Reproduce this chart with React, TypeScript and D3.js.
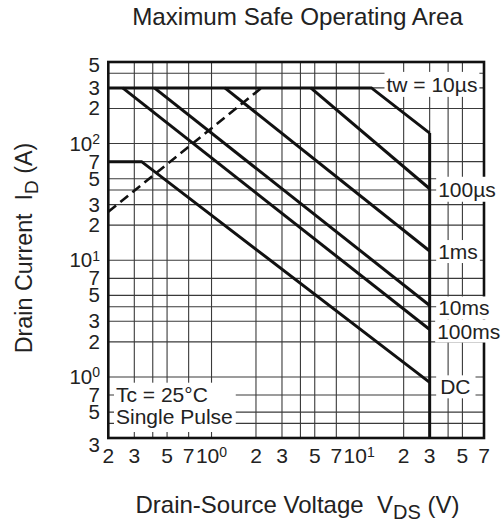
import React, { useEffect, useRef } from 'react';
import * as d3 from 'd3';

// ---- Axis ticks / labels ----
const xTickValues = [0.2, 0.3, 0.5, 0.7, 1, 2, 3, 5, 7, 10, 20, 30, 50, 70];
const xTickMantissa = ['2', '3', '5', '7', '10', '2', '3', '5', '7', '10', '2', '3', '5', '7'];
const xTickExp = ['', '', '', '', '0', '', '', '', '', '1', '', '', '', ''];
const yTickValues = [500, 300, 200, 100, 70, 50, 30, 20, 10, 7, 5, 3, 2, 1, 0.7, 0.5, 0.3];
const yTickMantissa = ['5', '3', '2', '10', '7', '5', '3', '2', '10', '7', '5', '3', '2', '10', '7', '5', '3'];
const yTickExp = ['', '', '', '2', '', '', '', '', '1', '', '', '', '', '0', '', '', ''];
const xGridValues = [0.3, 0.4, 0.5, 0.7, 1, 2, 3, 4, 5, 7, 10, 20, 30, 40, 50];
const yGridValues = [0.4, 0.5, 0.7, 1, 2, 3, 4, 5, 7, 10, 20, 30, 40, 50, 70, 100, 200, 300, 400];
const xDomain = [0.2, 70];
const yDomain = [0.3, 500];

// ---- SOA boundary series (V_DS in V, I_D in A) ----
const curve10usV = [0.2, 12.1, 30];
const curve10usI = [300, 300, 123];
const curve100usV = [4.7, 30];
const curve100usI = [300, 41];
const curve1msV = [1.23, 30];
const curve1msI = [300, 12];
const curve10msV = [0.41, 30];
const curve10msI = [300, 4.1];
const curve100msV = [0.25, 30];
const curve100msI = [300, 2.55];
const curveDCV = [0.2, 0.336, 30];
const curveDCI = [70, 70, 0.9];
const vdssLineV = [30, 30];
const vdssLineI = [123, 0.3];
const rdsOnV = [0.2, 2.18];
const rdsOnI = [26, 300];

const FONT = '"Liberation Sans", Arial, Helvetica, sans-serif';
const INK = '#222';

export default function App() {
  const ref = useRef<SVGSVGElement>(null);

  useEffect(() => {
    const svg = d3.select(ref.current);
    svg.selectAll('*').remove();
    const left = 108.3, right = 484, top = 62, bottom = 438;
    const x = d3.scaleLog().domain(xDomain).range([left, right]);
    const y = d3.scaleLog().domain(yDomain).range([bottom, top]);

    svg.append('rect').attr('width', 504).attr('height', 525).attr('fill', '#fff');

    // Title
    svg.append('text').attr('x', 297.5).attr('y', 25).attr('text-anchor', 'middle')
      .attr('font-family', FONT).attr('font-size', 24.2).attr('fill', INK)
      .text('Maximum Safe Operating Area');

    // Grid
    const g = svg.append('g');
    g.selectAll('line.vx').data(xGridValues).enter().append('line')
      .attr('x1', (d) => x(d)).attr('x2', (d) => x(d)).attr('y1', top).attr('y2', bottom)
      .attr('stroke', '#3a3a3a').attr('stroke-width', 1.1);
    g.selectAll('line.hy').data(yGridValues).enter().append('line')
      .attr('y1', (d) => y(d)).attr('y2', (d) => y(d)).attr('x1', left).attr('x2', right)
      .attr('stroke', '#3a3a3a').attr('stroke-width', 1.1);

    // Border
    svg.append('rect').attr('x', left).attr('y', top).attr('width', right - left)
      .attr('height', bottom - top).attr('fill', 'none').attr('stroke', '#111').attr('stroke-width', 2.6);

    // Annotations with white backgrounds
    const annotations = [
      { lines: ['tw = 10µs'], x: 386.5, y: y(300) + 4, pad: [2, 1, 2, 1] },
      { lines: ['100µs'], x: x(30) + 8.5, y: y(41) + 8, pad: [2, 1, 2, 1] },
      { lines: ['1ms'], x: x(30) + 8.5, y: y(12) + 8, pad: [2, 0, 2, 0] },
      { lines: ['10ms'], x: x(30) + 8.5, y: y(4.1) + 10, pad: [2, 0, 2, 0] },
      { lines: ['100ms'], x: x(30) + 7.5, y: y(2.55) + 9, pad: [2, 0, 2, 0] },
      { lines: ['DC'], x: x(30) + 10.5, y: y(0.9) + 12, pad: [4, 0, 5, 0] },
      { lines: ['Tc = 25°C', 'Single Pulse'], x: 116, y: 401.7, pad: [2, 0, 3, 4] },
    ];
    const annG = svg.append('g');
    const textG = svg.append('g');
    annotations.forEach((a) => {
      const t = textG.append('text').attr('font-family', FONT).attr('font-size', 21).attr('fill', INK);
      a.lines.forEach((ln, i) => {
        t.append('tspan').attr('x', a.x).attr('y', a.y + i * 22.3).text(ln);
      });
      const bb = (t.node() as SVGTextElement).getBBox();
      const [pl, pt, pr, pb] = a.pad;
      annG.append('rect').attr('x', bb.x - pl).attr('y', bb.y - pt)
        .attr('width', bb.width + pl + pr).attr('height', bb.height + pt + pb).attr('fill', '#fff');
    });

    // Curves
    const line = d3.line<[number, number]>().x((d) => x(d[0])).y((d) => y(d[1]));
    const zip = (vs: number[], is: number[]) => vs.map((v, i) => [v, is[i]] as [number, number]);
    const curves = [
      zip(curve10usV, curve10usI),
      zip(curve100usV, curve100usI),
      zip(curve1msV, curve1msI),
      zip(curve10msV, curve10msI),
      zip(curve100msV, curve100msI),
      zip(curveDCV, curveDCI),
      zip(vdssLineV, vdssLineI),
    ];
    const cG = svg.append('g');
    curves.forEach((c) => {
      cG.append('path').attr('d', line(c)).attr('fill', 'none').attr('stroke', '#111')
        .attr('stroke-width', 3).attr('stroke-linejoin', 'miter');
    });
    cG.append('path').attr('d', line(zip(rdsOnV, rdsOnI))).attr('fill', 'none')
      .attr('stroke', '#111').attr('stroke-width', 2.6).attr('stroke-dasharray', '10,5.5');

    textG.raise();

    // X tick labels
    xTickValues.forEach((v, i) => {
      const t = svg.append('text').attr('x', x(v)).attr('y', 463).attr('text-anchor', 'middle')
        .attr('font-family', FONT).attr('font-size', 21).attr('fill', INK);
      t.append('tspan').text(xTickMantissa[i]);
      if (xTickExp[i]) t.append('tspan').attr('font-size', 14).attr('dy', -6.5).text(xTickExp[i]);
    });

    // Y tick labels
    yTickValues.forEach((v, i) => {
      let by = y(v) + 7;
      if (i === 0) by += 2.5;
      if (i === yTickValues.length - 1) by += 7;
      const t = svg.append('text').attr('x', 100).attr('y', by).attr('text-anchor', 'end')
        .attr('font-family', FONT).attr('font-size', 20.5).attr('fill', INK);
      t.append('tspan').text(yTickMantissa[i]);
      if (yTickExp[i]) t.append('tspan').attr('font-size', 14).attr('dy', -6.5).text(yTickExp[i]);
    });

    // X axis title
    const xt = svg.append('text').attr('x', 297.5).attr('y', 512.5).attr('text-anchor', 'middle')
      .attr('font-family', FONT).attr('font-size', 24).attr('fill', INK);
    xt.append('tspan').text('Drain-Source Voltage\u00A0\u00A0V');
    xt.append('tspan').attr('font-size', 20).attr('dy', 6).text('DS');
    xt.append('tspan').attr('dy', -6).text('\u00A0(V)');

    // Y axis title
    const yt = svg.append('text').attr('transform', `translate(32,${(top + bottom) / 2 - 2}) rotate(-90)`)
      .attr('text-anchor', 'middle').attr('font-family', FONT).attr('font-size', 23.3).attr('fill', INK);
    yt.append('tspan').text('Drain Current\u00A0\u00A0I');
    yt.append('tspan').attr('font-size', 19).attr('dy', 6).text('D');
    yt.append('tspan').attr('dy', -6).text('\u00A0(A)');
  }, []);

  return (
    <svg ref={ref} width={504} height={525}
      style={{ position: 'absolute', left: 0, top: 0, display: 'block' }} />
  );
}
